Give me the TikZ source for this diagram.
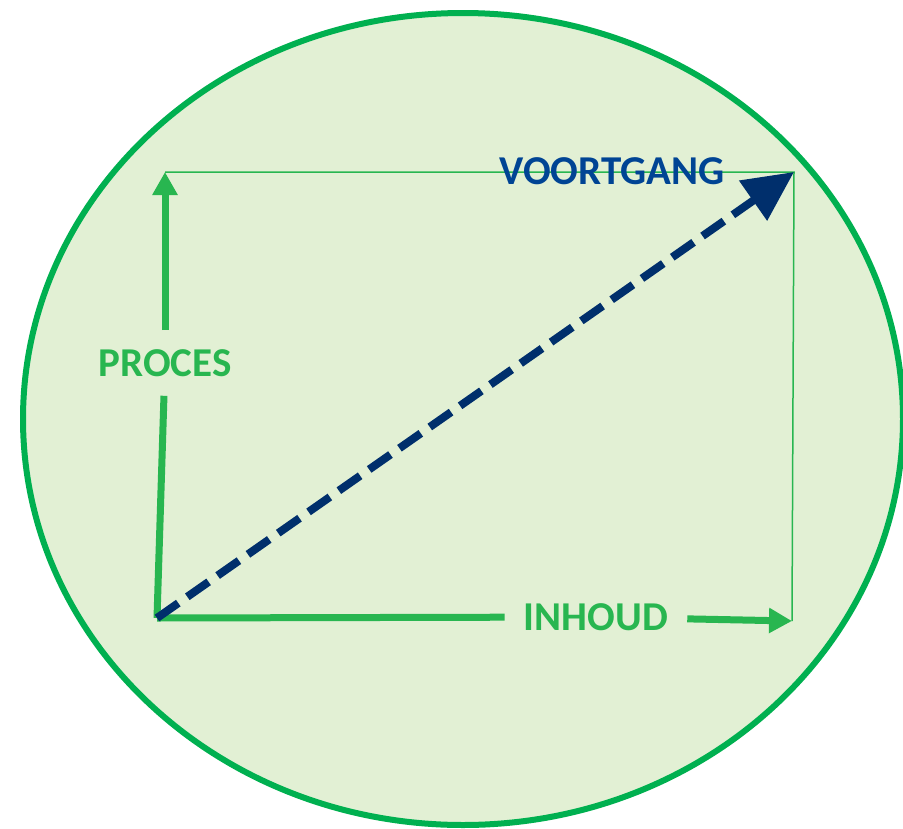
\documentclass[tikz,border=0pt]{standalone}
\usepackage{fontspec}
\setmainfont{Carlito}
\usetikzlibrary{arrows.meta}

\definecolor{ringgreen}{RGB}{0,176,80}
\definecolor{ringfill}{RGB}{226,240,212}
\definecolor{axisgreen}{RGB}{40,182,80}
\definecolor{navyblue}{RGB}{0,47,108}
\definecolor{labelblue}{RGB}{0,68,148}

\tikzset{
	axis/.style={line width=7pt,axisgreen},
	axisarrow/.style={axis,-{Triangle[length=23pt,width=24pt]}},
	thinline/.style={line width=1.5pt,axisgreen},
	axislabel/.style={font=\fontsize{41}{41}\selectfont\bfseries,text=axisgreen,inner sep=19pt},
	progress/.style={line width=8pt,navyblue,dash pattern=on 26pt off 11pt,-{Triangle[length=50pt,width=47pt]}},
}

\begin{document}
\begin{tikzpicture}[x=1pt,y=-1pt]
		\useasboundingbox (0,0) rectangle (903,828);
%		\draw[help lines,step=50] (0,0) grid (903,828);
		\path (463,419) coordinate (centre);
		\draw[ringgreen,fill=ringfill,line width=6pt] (centre) ellipse [x radius=440pt, y radius=406pt];

		\path (157,618) coordinate (origin);
		\path (165,172) coordinate (proces_top);
		\path (794,172) coordinate (corner);
		\path (792,621) coordinate (inhoud_end);
		\path (165,363) node(proces) [axislabel] {PROCES};
		\path (596,617) node(inhoud) [axislabel] {INHOUD};

		\draw[thinline] (proces_top) -- (corner) -- (inhoud_end);
		\draw[axis] (origin) -- (proces);
		\draw[axisarrow] (proces) -- (proces_top);
		\draw[axis] (origin) -- (inhoud);
		\draw[axisarrow] (inhoud) -- (inhoud_end);
		\draw[progress] (origin) -- (corner);

		\path (612,171) node(voortgang) [font=\fontsize{41}{41}\selectfont\bfseries,text=labelblue,inner sep=0pt] {VOORTGANG};
	\end{tikzpicture}
\end{document}
